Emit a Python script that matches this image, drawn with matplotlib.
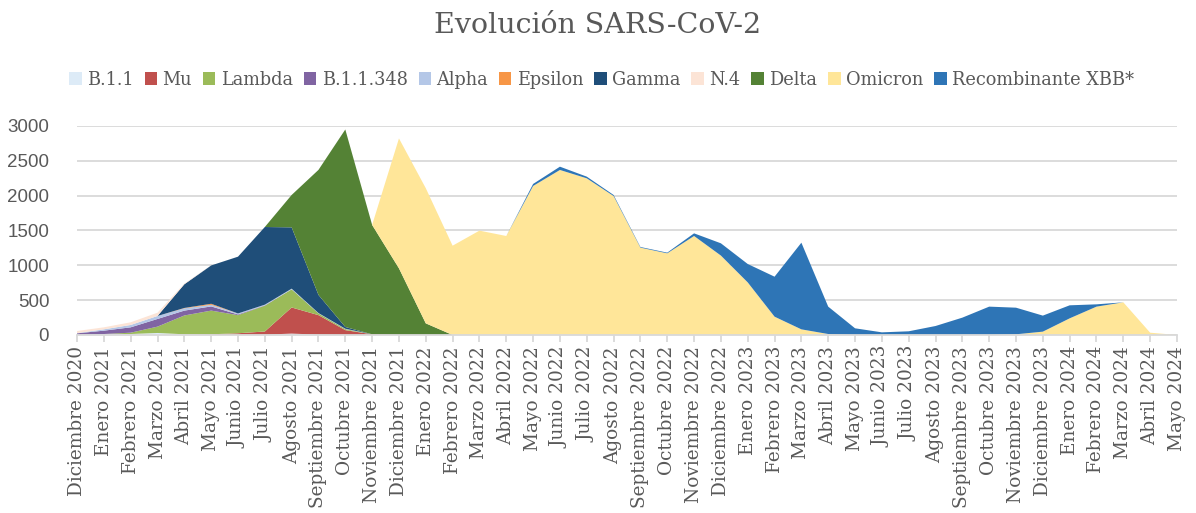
import numpy as np
import matplotlib
matplotlib.use("Agg")
import matplotlib.pyplot as plt
from matplotlib.patches import Patch

# Months (Dec 2020 - May 2024)
meses = (["Diciembre 2020"]
         + [m + " 2021" for m in ["Enero", "Febrero", "Marzo", "Abril", "Mayo", "Junio", "Julio",
                                   "Agosto", "Septiembre", "Octubre", "Noviembre", "Diciembre"]]
         + [m + " 2022" for m in ["Enero", "Febrero", "Marzo", "Abril", "Mayo", "Junio", "Julio",
                                   "Agosto", "Septiembre", "Octubre", "Noviembre", "Diciembre"]]
         + [m + " 2023" for m in ["Enero", "Febrero", "Marzo", "Abril", "Mayo", "Junio", "Julio",
                                   "Agosto", "Septiembre", "Octubre", "Noviembre", "Diciembre"]]
         + [m + " 2024" for m in ["Enero", "Febrero", "Marzo", "Abril", "Mayo"]])

b11 = [5, 14, 14, 29, 10, 5, 5, 5, 20, 5, 0, 0] + [0] * 30
mu = [0, 0, 0, 0, 0, 5, 20, 45, 375, 280, 70, 10] + [0] * 30
lambda_ = [0, 0, 19, 91, 270, 340, 260, 370, 260, 25, 15, 0] + [0] * 30
b11348 = [19, 48, 77, 110, 70, 60, 10, 5, 0, 0, 0, 0] + [0] * 30
alpha = [3, 19, 34, 43, 33, 23, 14, 10, 10, 5, 5, 0] + [0] * 30
epsilon = [0, 0, 0, 0, 5, 15, 0, 0, 0, 0, 0, 0] + [0] * 30
gamma = [0, 0, 0, 0, 340, 550, 815, 1115, 880, 260, 25, 0] + [0] * 30
n4 = [30, 29, 38, 47, 10, 0, 0, 0, 0, 0, 0, 0] + [0] * 30
delta = [0, 0, 0, 0, 0, 0, 0, 0, 465, 1795, 2835, 1570, 957, 167] + [0] * 28
omicron = ([0] * 12
           + [1865, 1940, 1282, 1498, 1421, 2139, 2369, 2249, 1995, 1254, 1172, 1421,
              1140, 755, 263, 81, 14, 0, 0, 0, 0, 0, 0, 10, 48, 239, 407, 469, 33, 0])
xbb = ([0] * 17
       + [29, 47, 24, 15, 9, 10, 38, 176, 264, 574, 1244, 393, 96, 38, 53, 129, 249,
          407, 382, 230, 187, 33, 0, 0, 0])

series = [b11, mu, lambda_, b11348, alpha, epsilon, gamma, n4, delta, omicron, xbb]
nombres = ["B.1.1", "Mu", "Lambda", "B.1.1.348", "Alpha", "Epsilon", "Gamma", "N.4",
           "Delta", "Omicron", "Recombinante XBB*"]
colores = ["#DDEBF7", "#C0504D", "#9BBB59", "#8064A2", "#B4C7E7", "#F79646", "#1F4E79",
           "#FCE4D6", "#548235", "#FFE699", "#2E75B6"]

serif = "DejaVu Serif"
gris = "#595959"

fig = plt.figure(figsize=(11.96, 5.13), dpi=100)
ax = fig.add_axes([0.0644, 0.347, 0.9197, 0.4074])

x = np.arange(len(meses))
ax.stackplot(x, *series, colors=colores, linewidth=0)

ax.set_xlim(0, len(meses) - 1)
ax.set_ylim(0, 3000)
ax.set_yticks(range(0, 3001, 500))
ax.yaxis.grid(True, color="#D9D9D9", linewidth=1.3)
ax.set_axisbelow(True)
for s in ["top", "right", "left"]:
  ax.spines[s].set_visible(False)
ax.spines["bottom"].set_color("#D9D9D9")
ax.spines["bottom"].set_linewidth(1.3)

ax.set_xticks(x)
ax.set_xticklabels(meses, rotation=90, fontsize=13.3, family=serif, color=gris)
ax.tick_params(axis="x", length=5, color="#D9D9D9", width=1.3, pad=3)
ax.tick_params(axis="y", length=0, pad=20, labelsize=13.5, labelcolor=gris)
for lab in ax.get_yticklabels():
  lab.set_family("Liberation Sans")

fig.text(0.5, 0.951, "Evolución SARS-CoV-2", ha="center", va="center",
         fontsize=20.5, family=serif, color=gris)

handles = [Patch(facecolor=c, edgecolor="none") for c in colores]
fig.legend(handles, nombres, loc="center", bbox_to_anchor=(0.503, 0.845), ncol=11,
           frameon=False, prop={"family": serif, "size": 12.8}, labelcolor=gris,
           handlelength=0.7, handleheight=0.7, handletextpad=0.3, columnspacing=0.62)

fig.savefig("out.png", dpi=100)
